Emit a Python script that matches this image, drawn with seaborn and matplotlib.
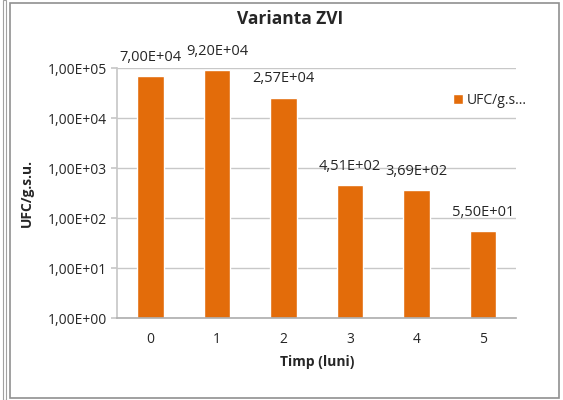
import numpy as np
import pandas as pd
import seaborn as sns
import matplotlib.pyplot as plt
from matplotlib.patches import Rectangle

months = ['0', '1', '2', '3', '4', '5']
ufc = [7.00e4, 9.20e4, 2.57e4, 4.51e2, 3.69e2, 5.50e1]
ytick_vals = [1e0, 1e1, 1e2, 1e3, 1e4, 1e5]

def sci_ro(v):
    # 7.00E+04 -> 7,00E+04 (virgula zecimala)
    return f'{v:.2E}'.replace('.', ',')

sns.set_theme(style='white')
plt.rcParams['font.family'] = ['Open Sans', 'DejaVu Sans']

df = pd.DataFrame({'luna': months, 'ufc': ufc})

fig = plt.figure(figsize=(5.63, 4.0), dpi=100)
ax = fig.add_axes([0.208, 0.205, 0.709, 0.625])
ax.set_yscale('log')

orange = '#E36C0A'
sns.barplot(data=df, x='luna', y='ufc', color=orange, width=0.4,
            saturation=1, ax=ax, label='UFC/g.s...')
ax.set_ylim(1, 1e5)
ax.set_yticks(ytick_vals)
ax.set_yticklabels([sci_ro(v) for v in ytick_vals])
ax.minorticks_off()
ax.yaxis.grid(True, color='#C8C8C8', linewidth=1)
ax.set_axisbelow(True)
for s in ['top', 'right']:
    ax.spines[s].set_visible(False)
ax.spines['left'].set_color('#C8C8C8')
ax.spines['bottom'].set_color('#B0B0B0')
ax.tick_params(axis='y', length=4, color='#C8C8C8', labelsize=10, left=True, pad=3)
ax.tick_params(axis='x', length=0, labelsize=10, pad=10)

for p, v in zip(ax.patches, ufc):
    ax.annotate(sci_ro(v), (p.get_x() + p.get_width() / 2, v),
                xytext=(0, 8), textcoords='offset points',
                ha='center', va='bottom', fontsize=10.5)

ax.set_xlabel('Timp (luni)', fontsize=10, fontweight='bold', labelpad=6)
ax.set_ylabel('UFC/g.s.u.', fontsize=10, fontweight='bold', labelpad=10)
fig.suptitle('Varianta ZVI', fontsize=12.5, fontweight='bold', x=0.515, y=0.975)

ax.legend(loc='center left', bbox_to_anchor=(0.81, 0.872), frameon=False,
          fontsize=10, handlelength=0.7, handleheight=0.7, handletextpad=0.3)

fig.patches.append(Rectangle((0.018, 0.005), 0.975, 0.988, transform=fig.transFigure,
                             fill=False, edgecolor='#909090', linewidth=1.2))
fig.patches.append(Rectangle((0.005, 0.0), 0.006, 1.0, transform=fig.transFigure,
                             fill=False, edgecolor='#A0A0A0', linewidth=0.8))

plt.savefig('out.png', dpi=100)
